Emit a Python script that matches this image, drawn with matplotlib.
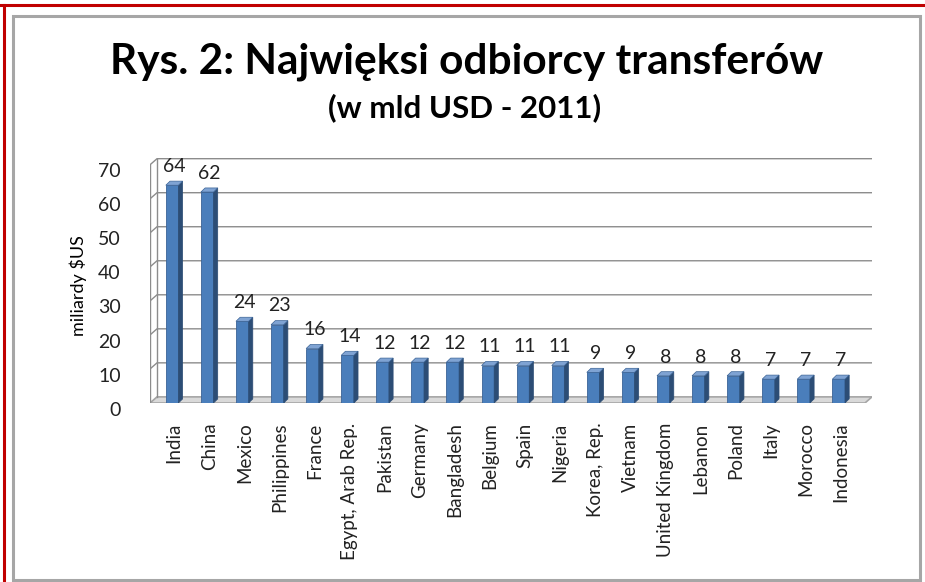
import matplotlib
matplotlib.use('Agg')
import matplotlib.pyplot as plt
from matplotlib.patches import Polygon, Rectangle
from matplotlib.lines import Line2D
from matplotlib.transforms import ScaledTranslation

plt.rcParams['font.family'] = ['Lato', 'DejaVu Sans']

countries = ['India', 'China', 'Mexico', 'Philippines', 'France', 'Egypt, Arab Rep.',
             'Pakistan', 'Germany', 'Bangladesh', 'Belgium', 'Spain', 'Nigeria',
             'Korea, Rep.', 'Vietnam', 'United Kingdom', 'Lebanon', 'Poland', 'Italy',
             'Morocco', 'Indonesia']
values = [64, 62, 24, 23, 16, 14, 12, 12, 12, 11, 11, 11, 9, 9, 8, 8, 8, 7, 7, 7]
yticks = [0, 10, 20, 30, 40, 50, 60, 70]

title = 'Rys. 2: Najwięksi odbiorcy transferów'
subtitle = '(w mld USD - 2011)'
ylabel = 'miliardy $US'

# 3d look
wx, wy = 0.2, 1.8      # depth of the back wall (data units)
bx, by = 0.12, 1.2     # depth of one bar
front_w = 0.36
c_front, c_side, c_top = '#4A7EBB', '#2C4D75', '#7FA3D3'
grid_c = '#8C8C8C'

fig = plt.figure(figsize=(9.25, 5.82), dpi=100)
W, H = 925.0, 582.0

# frames round the picture
fig.add_artist(Line2D([0, 1], [1 - 5 / H, 1 - 5 / H], color='#C00000', lw=2.2))
fig.add_artist(Line2D([4 / W, 4 / W], [0, 1 - 5 / H], color='#C00000', lw=2.2))
fig.add_artist(Rectangle((13 / W, 2 / H), 907 / W, 564 / H, fill=False,
                         edgecolor='#A6A6A6', lw=2.2))

ax = fig.add_axes([150 / W, 1 - 403 / H, 722 / W, (403 - 158) / H])
n = len(values)
xs = list(range(n))
xl, xr = -0.69, n - 1 + 0.69 + wx
ax.set_xlim(xl, xr)
ax.set_ylim(0, 72)
for s in ax.spines.values():
    s.set_visible(False)
ax.patch.set_alpha(0)

# floor, side wall, back-wall gridlines
ax.add_patch(Polygon([(xl, 0), (xr - wx, 0), (xr, wy), (xl + wx, wy)], closed=True,
                     facecolor='#D9D9D9', edgecolor='#A6A6A6', lw=1.2, zorder=1))
ax.plot([xl, xl], [0, yticks[-1]], color=grid_c, lw=1, zorder=1)
ax.plot([xl + wx, xl + wx], [wy, yticks[-1] + wy], color=grid_c, lw=1, zorder=1)
for v in yticks[1:]:
    ax.plot([xl, xl + wx, xr], [v, v + wy, v + wy], color=grid_c, lw=1, zorder=1)

# bars
xf = [x - 0.24 for x in xs]
ax.bar(xf, values, width=front_w, align='edge', color=c_front, edgecolor='#3A6396',
       lw=0.6, zorder=3)
for x, v in zip(xs, values):
    r = x - 0.24 + front_w
    ax.add_patch(Polygon([(r, 0), (r + bx, by), (r + bx, v + by), (r, v)], closed=True,
                         facecolor=c_side, edgecolor=c_side, lw=0.5, zorder=3))
    ax.add_patch(Polygon([(x - 0.24, v), (r, v), (r + bx, v + by), (x - 0.24 + bx, v + by)],
                         closed=True, facecolor=c_top, edgecolor='#3A6396', lw=0.5, zorder=3))
    ax.text(x, v + 3.9, '%d' % v, ha='center', va='baseline', fontsize=14, color='#222222')

ax.set_yticks(yticks)
ax.set_yticklabels([str(t) for t in yticks], fontsize=14, color='#222222')
ax.tick_params(axis='y', length=0, pad=21)
for lab in ax.get_yticklabels():
    lab.set_transform(lab.get_transform() + ScaledTranslation(0, -4 / 72, fig.dpi_scale_trans))
ax.set_xticks(xs)
ax.set_xticklabels(countries, rotation=90, fontsize=13.5, color='#222222')
ax.tick_params(axis='x', length=0, pad=14)

fig.text(78 / W, 1 - 286 / H, ylabel, rotation=90, ha='center', va='center', fontsize=13)
fig.text(467 / W, 1 - 62 / H, title, ha='center', va='center', fontsize=30.5, weight='bold')
fig.text(465 / W, 1 - 108 / H, subtitle, ha='center', va='center', fontsize=22.5, weight='bold')

fig.savefig('out.png', dpi=100)
